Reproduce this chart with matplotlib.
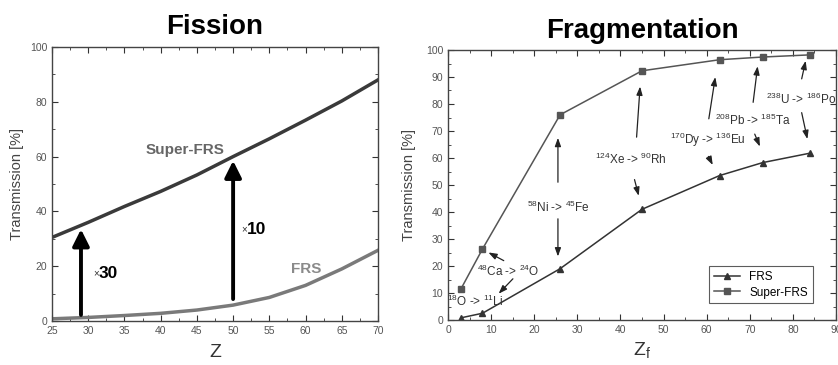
import matplotlib
matplotlib.use('Agg')
import matplotlib.pyplot as plt
from matplotlib.ticker import MultipleLocator

plt.rcParams['font.family'] = ['Liberation Sans', 'DejaVu Sans']
plt.rcParams['mathtext.fontset'] = 'custom'
plt.rcParams['mathtext.rm'] = 'Liberation Sans'
plt.rcParams['mathtext.it'] = 'Liberation Sans:italic'

# Fission (left panel)
fis_z = [25, 30, 35, 40, 45, 50, 55, 60, 65, 70]
fis_super = [30.5, 36, 41.8, 47.3, 53.3, 60, 66.5, 73.3, 80.3, 88]
fis_frs = [0.8, 1.3, 2.0, 2.8, 4.0, 5.8, 8.6, 13.0, 19.0, 25.8]

# Fragmentation (right panel)
frag_z = [3, 8, 26, 45, 63, 73, 84]
frag_frs = [0.8, 2.5, 19, 41, 53.5, 58.3, 61.8]
frag_super = [11.5, 26.3, 76, 92.3, 96.4, 97.4, 98.2]

reactions = [r'$^{18}$O -> $^{11}$Li', r'$^{48}$Ca -> $^{24}$O', r'$^{58}$Ni -> $^{45}$Fe',
             r'$^{124}$Xe -> $^{90}$Rh', r'$^{170}$Dy -> $^{136}$Eu',
             r'$^{208}$Pb -> $^{185}$Ta', r'$^{238}$U -> $^{186}$Po']

fig = plt.figure(figsize=(8.38, 3.65), dpi=100)
fig.patch.set_facecolor('white')

ax1 = fig.add_axes([52 / 838, 1 - 321 / 365, 326 / 838, 274 / 365])
ax2 = fig.add_axes([448 / 838, 1 - 320 / 365, 388 / 838, 270 / 365])

for ax in (ax1, ax2):
    ax.tick_params(which='both', direction='in', top=True, right=True,
                   labelsize=7.5, colors='#333333', labelcolor='#555555')
    ax.tick_params(which='major', length=4)
    ax.tick_params(which='minor', length=2)
    for s in ax.spines.values():
        s.set_color('#444444')
        s.set_linewidth(1.0)

# left panel
ax1.plot(fis_z, fis_super, color='#3a3a3a', lw=2.5)
ax1.plot(fis_z, fis_frs, color='#7a7a7a', lw=2.5)
ax1.set_xlim(25, 70)
ax1.set_ylim(0, 100)
ax1.xaxis.set_major_locator(MultipleLocator(5))
ax1.xaxis.set_minor_locator(MultipleLocator(2.5))
ax1.yaxis.set_major_locator(MultipleLocator(20))
ax1.yaxis.set_minor_locator(MultipleLocator(10))
ax1.set_xlabel('Z', fontsize=14, color='#333333', labelpad=6)
ax1.set_ylabel('Transmission [%]', fontsize=10.5, color='#444444', labelpad=4)
ax1.set_title('Fission', fontsize=20, fontweight='bold', pad=9)

arrow_kw = dict(arrowstyle='-|>,head_width=0.5,head_length=1.0', color='black', lw=2.8)
ax1.annotate('', xy=(29, 34.5), xytext=(29, 1.2), arrowprops=arrow_kw)
ax1.annotate('', xy=(50, 59.5), xytext=(50, 7), arrowprops=arrow_kw)
ax1.text(30.6, 17.5, r'$\times$', fontsize=7, color='#333333', va='center')
ax1.text(31.4, 17.5, '30', fontsize=12.5, fontweight='bold', va='center')
ax1.text(51.1, 33.5, r'$\times$', fontsize=7, color='#333333', va='center')
ax1.text(51.9, 33.5, '10', fontsize=12.5, fontweight='bold', va='center')
ax1.text(43.4, 62.5, 'Super-FRS', fontsize=11, fontweight='bold', color='#666666',
         ha='center', va='center')
ax1.text(60.1, 18.8, 'FRS', fontsize=11, fontweight='bold', color='#8a8a8a',
         ha='center', va='center')

# right panel
ax2.plot(frag_z, frag_frs, color='#333333', lw=1.1, marker='^', ms=5, label='FRS')
ax2.plot(frag_z, frag_super, color='#555555', lw=1.1, marker='s', ms=4, label='Super-FRS')
ax2.set_xlim(0, 90)
ax2.set_ylim(0, 100)
ax2.xaxis.set_major_locator(MultipleLocator(10))
ax2.xaxis.set_minor_locator(MultipleLocator(5))
ax2.yaxis.set_major_locator(MultipleLocator(10))
ax2.yaxis.set_minor_locator(MultipleLocator(5))
ax2.set_xlabel(r'Z$_\mathrm{f}$', fontsize=14, color='#333333', labelpad=4)
ax2.set_ylabel('Transmission [%]', fontsize=10.5, color='#444444', labelpad=7)
ax2.set_title('Fragmentation', fontsize=20, fontweight='bold', pad=9)

leg = ax2.legend(loc='lower right', fontsize=8.5, frameon=True, fancybox=False,
                 edgecolor='#333333', handlelength=2.2, borderpad=0.4,
                 labelspacing=0.3, bbox_to_anchor=(0.955, 0.04))
leg.get_frame().set_linewidth(0.8)

label_pos = [(6.3, 7), (13.9, 17.9), (25.6, 41.7), (42.5, 59.5),
             (60.3, 66.7), (70.7, 74), (81.8, 81.7)]
for (tx, ty), txt in zip(label_pos, reactions):
    ax2.text(tx, ty, txt, fontsize=8.5, color='#333333', ha='center', va='center')

small_arrow = dict(arrowstyle='-|>,head_width=0.18,head_length=0.5', color='#222222', lw=0.9)
arrows = [
    ((13.5, 21.5), (8.8, 25.5)),
    ((15.5, 16.0), (11.3, 9.0)),
    ((25.5, 50), (25.5, 68.5)),
    ((25.5, 38.5), (25.5, 22.5)),
    ((43.7, 66.7), (44.6, 87.5)),
    ((43.1, 53.0), (44.4, 45.0)),
    ((60.4, 73.5), (62.1, 91.0)),
    ((60.1, 61.5), (61.7, 56.5)),
    ((70.7, 79.6), (71.9, 95.0)),
    ((70.9, 69.8), (72.6, 63.3)),
    ((81.9, 88.3), (83.1, 97.0)),
    ((81.9, 77.8), (83.5, 66.0)),
]
for start, end in arrows:
    ax2.annotate('', xy=end, xytext=start, arrowprops=small_arrow)

fig.savefig('out.png', dpi=100)
